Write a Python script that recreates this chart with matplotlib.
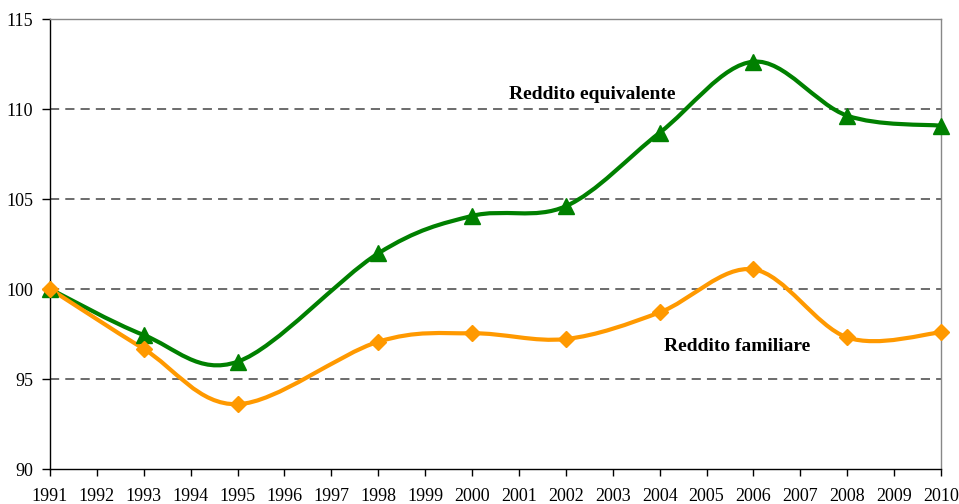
import matplotlib
matplotlib.use("Agg")
import matplotlib.pyplot as plt
from matplotlib.path import Path
from matplotlib.patches import PathPatch
import numpy as np

years = [1991, 1993, 1995, 1998, 2000, 2002, 2004, 2006, 2008, 2010]
equivalente = [100.0, 97.44, 95.96, 101.98, 104.06, 104.6, 108.68, 112.63, 109.63, 109.07]
familiare = [100.0, 96.67, 93.6, 97.07, 97.54, 97.22, 98.7, 101.09, 97.31, 97.59]
tick_years = list(range(1991, 2011))
y_ticks = [90, 95, 100, 105, 110, 115]

GREEN = "#008000"
ORANGE = "#FF9900"

plt.rcParams["font.family"] = ["Liberation Serif", "DejaVu Serif"]

fig = plt.figure(figsize=(9.59, 5.04), dpi=100)
ax = fig.add_axes([50 / 959, 35 / 504, 891 / 959, 450 / 504])
ax.set_xlim(1991, 2010)
ax.set_ylim(90, 115)


def smooth_path(xs, ys):
    pts = np.column_stack([xs, ys]).astype(float)
    n = len(pts)
    verts = [pts[0]]
    codes = [Path.MOVETO]
    for i in range(n - 1):
        p0 = pts[i - 1] if i > 0 else pts[i]
        p1 = pts[i]
        p2 = pts[i + 1]
        p3 = pts[i + 2] if i + 2 < n else pts[i + 1]
        c1 = p1 + (p2 - p0) / 6.0
        c2 = p2 - (p3 - p1) / 6.0
        verts += [c1, c2, p2]
        codes += [Path.CURVE4] * 3
    return Path(verts, codes)


for ys, col, mk, ms in [(equivalente, GREEN, "^", 11), (familiare, ORANGE, "D", 8)]:
    ax.add_patch(PathPatch(smooth_path(years, ys), facecolor="none", edgecolor=col,
                           lw=3.0, capstyle="round", joinstyle="round", zorder=3))
    ax.plot(years, ys, linestyle="none", marker=mk, color=col, markersize=ms, zorder=4,
            clip_on=False)

for v in y_ticks[1:-1]:
    ax.axhline(v, color="#444444", lw=1.1, dashes=(6, 4), zorder=1)

ax.set_xticks(tick_years)
ax.set_xticklabels([str(y) for y in tick_years])
ax.set_yticks(y_ticks)
ax.tick_params(axis="x", direction="out", length=5, width=1, labelsize=13, pad=9)
ax.tick_params(axis="y", direction="out", length=6, width=1, labelsize=13, pad=6)
ax.spines["left"].set_color("black")
ax.spines["bottom"].set_color("black")
ax.spines["top"].set_color("#888888")
ax.spines["right"].set_color("#888888")
for s in ax.spines.values():
    s.set_linewidth(1.0)

ax.text(2002.56, 110.78, "Reddito equivalente", ha="center", va="center",
        fontsize=14, fontweight="bold", color="black")
ax.text(2005.65, 96.83, "Reddito familiare", ha="center", va="center",
        fontsize=14, fontweight="bold", color="black")

fig.savefig("out.png", dpi=100)
